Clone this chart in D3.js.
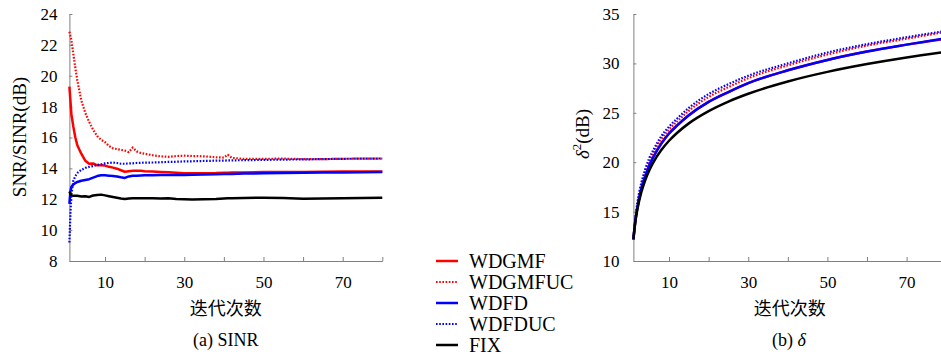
<!DOCTYPE html>
<html>
<head>
<meta charset="utf-8">
<script src="https://cdn.jsdelivr.net/npm/d3@7"></script>
<style>
  body { margin: 0; background: #fff; }
  .axis path, .axis line { stroke: #808080; stroke-width: 1; }
  .axis text { fill: #000; }
</style>
</head>
<body>
<div class="wrap-chart"></div>
<script>
var width = 941, height = 358,
  serifFont = "'Liberation Serif', 'Times New Roman', Tinos, 'DejaVu Serif', serif",
  cjkFont = "'Noto Sans CJK SC', 'Noto Sans CJK JP', sans-serif";

// left panel: SNR/SINR vs iteration
var iterA = [1, 1.25, 1.5, 2, 2.5, 3, 4, 5, 6, 7, 8, 9, 10, 11, 12, 13, 14, 15, 16, 17, 18, 19, 20,
  22, 24, 26, 28, 30, 32, 35, 38, 40, 41, 42, 45, 50, 55, 60, 65, 70, 75, 80];
var wdgmfA = [19.3, 18.4, 17.5, 16.7, 16.0, 15.5, 14.95, 14.5, 14.3, 14.32, 14.2, 14.2, 14.18, 14.1, 14.05,
  13.98, 13.88, 13.78, 13.82, 13.85, 13.85, 13.84, 13.82, 13.8, 13.77, 13.75, 13.72, 13.69, 13.68, 13.69,
  13.7, 13.72, 13.72, 13.73, 13.74, 13.76, 13.77, 13.77, 13.78, 13.79, 13.8, 13.8];
var wdgmfucA = [22.85, 22.6, 22.3, 21.4, 20.5, 19.7, 18.4, 17.6, 17.0, 16.5, 16.1, 15.85, 15.7, 15.45, 15.3,
  15.25, 15.2, 15.15, 15.05, 15.35, 15.1, 15.0, 14.95, 14.85, 14.78, 14.75, 14.8, 14.82, 14.8, 14.78,
  14.72, 14.7, 14.88, 14.68, 14.62, 14.62, 14.63, 14.6, 14.6, 14.62, 14.63, 14.63];
var wdfdA = [11.7, 12.5, 12.8, 12.95, 13.05, 13.12, 13.2, 13.25, 13.3, 13.4, 13.5, 13.55, 13.55, 13.53, 13.5,
  13.47, 13.42, 13.38, 13.48, 13.52, 13.53, 13.54, 13.55, 13.56, 13.57, 13.57, 13.57, 13.57, 13.58, 13.6,
  13.62, 13.63, 13.64, 13.64, 13.66, 13.68, 13.7, 13.72, 13.73, 13.74, 13.75, 13.76];
var wdfducA = [9.2, 11.0, 12.3, 13.2, 13.5, 13.7, 13.9, 14.03, 14.1, 14.15, 14.22, 14.27, 14.32, 14.35, 14.38,
  14.35, 14.3, 14.3, 14.32, 14.33, 14.35, 14.36, 14.37, 14.38, 14.4, 14.42, 14.43, 14.45, 14.46, 14.48,
  14.5, 14.5, 14.52, 14.52, 14.53, 14.55, 14.57, 14.58, 14.6, 14.62, 14.63, 14.64];
var fixA = [12.5, 12.35, 12.25, 12.22, 12.22, 12.22, 12.18, 12.2, 12.15, 12.24, 12.27, 12.3, 12.25, 12.2, 12.15,
  12.1, 12.05, 12.02, 12.05, 12.07, 12.07, 12.07, 12.07, 12.06, 12.05, 12.06, 12.02, 12.0, 11.98, 12.0,
  12.02, 12.05, 12.06, 12.06, 12.08, 12.1, 12.08, 12.04, 12.05, 12.06, 12.08, 12.1];

// right panel: delta^2 vs iteration
var iterB = [1, 1.5, 2, 3, 4, 5, 6, 8, 10, 12, 15, 20, 25, 30, 40, 50, 60, 70, 80];
var wdgmfB = [12.2, 14.1, 15.4, 17.3, 18.6, 19.65, 20.5, 21.85, 22.9, 23.7, 24.75, 26.1, 27.1, 28.0, 29.3, 30.35, 31.2, 31.9, 32.5];
var wdgmfucB = [12.2, 14.2, 15.6, 17.6, 19.0, 20.0, 20.9, 22.3, 23.3, 24.1, 25.2, 26.6, 27.6, 28.5, 29.8, 30.9, 31.8, 32.5, 33.2];
var wdfdB = [12.2, 14.1, 15.4, 17.3, 18.6, 19.67, 20.5, 21.85, 22.9, 23.7, 24.75, 26.1, 27.1, 28.0, 29.3, 30.35, 31.2, 31.9, 32.55];
var wdfducB = [12.2, 14.3, 15.9, 17.9, 19.3, 20.4, 21.2, 22.6, 23.6, 24.4, 25.5, 26.9, 27.9, 28.75, 30.0, 31.1, 31.95, 32.65, 33.3];
var fixB = [12.2, 14.0, 15.2, 16.96, 18.2, 19.17, 19.96, 21.2, 22.17, 22.96, 23.93, 25.17, 26.14, 26.93, 28.17, 29.14, 29.93, 30.6, 31.17];

var seriesNames = ["WDGMF", "WDGMFUC", "WDFD", "WDFDUC", "FIX"];
var seriesColors = ["#ff0000", "#ff0000", "#0000ff", "#0000ff", "#000000"];
var seriesDotted = [false, true, false, true, false];

var xTicks = [10, 20, 30, 40, 50, 60, 70, 80];
var xTickLabels = [10, 30, 50, 70];
var yTicksA = [8, 10, 12, 14, 16, 18, 20, 22, 24];
var yTicksB = [10, 15, 20, 25, 30, 35];

var svg = d3.select(".wrap-chart")
  .append("svg")
  .attr("width", width)
  .attr("height", height)
  .style("display", "block")
  .attr("font-family", serifFont);

function panel(opts) {
  var x = d3.scaleLinear().domain([1, 80]).range(opts.xRange);
  var y = d3.scaleLinear().domain(opts.yDomain).range([261, 14]);

  var g = svg.append("g");

  g.append("g")
    .attr("class", "axis")
    .attr("transform", "translate(0," + y.range()[0] + ")")
    .call(d3.axisBottom(x)
      .tickValues(xTicks)
      .tickSizeInner(-4)
      .tickSizeOuter(0)
      .tickPadding(15)
      .tickFormat(function (d) { return xTickLabels.indexOf(d) >= 0 ? d : ""; }));

  g.append("g")
    .attr("class", "axis")
    .attr("transform", "translate(" + x.range()[0] + ",0)")
    .call(d3.axisLeft(y)
      .tickValues(opts.yTicks)
      .tickSizeInner(-3)
      .tickSizeOuter(0)
      .tickPadding(opts.yPad));

  g.selectAll(".axis")
    .attr("font-family", serifFont)
    .attr("font-size", 17);

  var line = d3.line()
    .x(function (d) { return x(d[0]); })
    .y(function (d) { return y(d[1]); })
    .curve(opts.curve);

  opts.values.forEach(function (vals, i) {
    var pts = opts.iters.map(function (it, j) { return [it, vals[j]]; });
    g.append("path")
      .datum(pts)
      .attr("fill", "none")
      .attr("stroke", seriesColors[i])
      .attr("stroke-width", seriesDotted[i] ? 2.2 : 2.5)
      .attr("stroke-dasharray", seriesDotted[i] ? "1.6,1.6" : null)
      .attr("stroke-linejoin", "round")
      .attr("d", line);
  });

  var cx = (opts.xRange[0] + opts.xRange[1]) / 2;
  g.append("text")
    .attr("font-family", cjkFont)
    .attr("x", cx)
    .attr("y", 315)
    .attr("text-anchor", "middle")
    .attr("font-size", 18)
    .text("迭代次数");

  return { x: x, y: y, g: g, cx: cx };
}

var pA = panel({
  xRange: [69.4, 382.3],
  yDomain: [8, 24],
  yTicks: yTicksA,
  yPad: 12,
  iters: iterA,
  values: [wdgmfA, wdgmfucA, wdfdA, wdfducA, fixA],
  curve: d3.curveLinear
});

var pB = panel({
  xRange: [633.4, 946.2],
  yDomain: [10, 35],
  yTicks: yTicksB,
  yPad: 14,
  iters: iterB,
  values: [wdgmfB, wdgmfucB, wdfdB, wdfducB, fixB],
  curve: d3.curveMonotoneX
});

// y-axis titles
svg.append("text")
  .attr("transform", "translate(26,137) rotate(-90)")
  .attr("text-anchor", "middle")
  .attr("font-size", 19)
  .text("SNR/SINR(dB)");

var yLabB = svg.append("text")
  .attr("transform", "translate(589,134) rotate(-90)")
  .attr("text-anchor", "middle")
  .attr("font-size", 19);
yLabB.append("tspan").attr("font-style", "italic").text("δ");
yLabB.append("tspan").attr("font-size", 13).attr("dy", -8).text("2");
yLabB.append("tspan").attr("dy", 8).text("(dB)");

// captions
svg.append("text")
  .attr("x", pA.cx)
  .attr("y", 346)
  .attr("text-anchor", "middle")
  .attr("font-size", 18)
  .text("(a) SINR");

var capB = svg.append("text")
  .attr("x", 789)
  .attr("y", 346)
  .attr("text-anchor", "middle")
  .attr("font-size", 18);
capB.append("tspan").text("(b) ");
capB.append("tspan").attr("font-style", "italic").text("δ");

// legend
var legend = svg.append("g")
  .attr("class", "legend")
  .attr("transform", "translate(436,261)");

var rows = legend.selectAll(".row")
  .data(seriesNames)
  .enter()
  .append("g")
  .attr("class", "row")
  .attr("transform", function (d, i) { return "translate(0," + (i * 21) + ")"; });

rows.append("line")
  .attr("x1", 0)
  .attr("x2", 22)
  .attr("stroke", function (d, i) { return seriesColors[i]; })
  .attr("stroke-width", function (d, i) { return seriesDotted[i] ? 2.2 : 2.5; })
  .attr("stroke-dasharray", function (d, i) { return seriesDotted[i] ? "1.6,1.6" : null; });

rows.append("text")
  .attr("x", 33)
  .attr("dy", "0.35em")
  .attr("font-size", 20)
  .text(function (d) { return d; });
</script>
</body>
</html>
